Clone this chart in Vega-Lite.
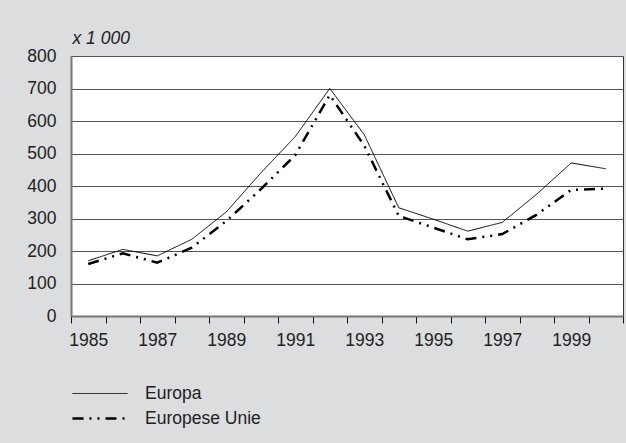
{
  "$schema": "https://vega.github.io/schema/vega-lite/v6.json",
  "autosize": {"type": "none"},
  "padding": {"left": 71, "top": 56, "right": 3, "bottom": 127},
  "width": 552,
  "height": 260,
  "background": "#dcdddf",
  "config": {
    "font": "Liberation Sans",
    "view": {"fill": "white", "stroke": "#333", "strokeWidth": 1}
  },
  "data": {
    "values": [
      {"year": 1985, "series": "Europa", "value": 170},
      {"year": 1986, "series": "Europa", "value": 205},
      {"year": 1987, "series": "Europa", "value": 185},
      {"year": 1988, "series": "Europa", "value": 236},
      {"year": 1989, "series": "Europa", "value": 320},
      {"year": 1990, "series": "Europa", "value": 440},
      {"year": 1991, "series": "Europa", "value": 552},
      {"year": 1992, "series": "Europa", "value": 700},
      {"year": 1993, "series": "Europa", "value": 558},
      {"year": 1994, "series": "Europa", "value": 333},
      {"year": 1995, "series": "Europa", "value": 298},
      {"year": 1996, "series": "Europa", "value": 261},
      {"year": 1997, "series": "Europa", "value": 288},
      {"year": 1998, "series": "Europa", "value": 375},
      {"year": 1999, "series": "Europa", "value": 471},
      {"year": 2000, "series": "Europa", "value": 453},
      {"year": 1985, "series": "Europese Unie", "value": 160},
      {"year": 1986, "series": "Europese Unie", "value": 193},
      {"year": 1987, "series": "Europese Unie", "value": 164},
      {"year": 1988, "series": "Europese Unie", "value": 210},
      {"year": 1989, "series": "Europese Unie", "value": 292},
      {"year": 1990, "series": "Europese Unie", "value": 390},
      {"year": 1991, "series": "Europese Unie", "value": 495},
      {"year": 1992, "series": "Europese Unie", "value": 680},
      {"year": 1993, "series": "Europese Unie", "value": 524},
      {"year": 1994, "series": "Europese Unie", "value": 308},
      {"year": 1995, "series": "Europese Unie", "value": 272},
      {"year": 1996, "series": "Europese Unie", "value": 236},
      {"year": 1997, "series": "Europese Unie", "value": 252},
      {"year": 1998, "series": "Europese Unie", "value": 312},
      {"year": 1999, "series": "Europese Unie", "value": 388},
      {"year": 2000, "series": "Europese Unie", "value": 392}
    ]
  },
  "mark": {"type": "line", "color": "black"},
  "encoding": {
    "x": {
      "field": "year",
      "type": "ordinal",
      "bandPosition": 0.5,
      "scale": {"type": "band", "paddingInner": 0, "paddingOuter": 0},
      "axis": {
        "title": null,
        "labelAngle": 0,
        "tickBand": "extent",
        "labelExpr": "datum.value % 2 == 1 ? datum.label : ''",
        "grid": false,
        "tickSize": 7,
        "tickColor": "#111",
        "tickWidth": 1,
        "domainColor": "#777",
        "domainWidth": 2,
        "labelFontSize": 17.5,
        "labelColor": "#222",
        "labelPadding": 8
      }
    },
    "y": {
      "field": "value",
      "type": "quantitative",
      "scale": {"domain": [0, 800], "nice": false},
      "axis": {
        "title": "x 1 000",
        "titleAngle": 0,
        "titleAlign": "left",
        "titleBaseline": "alphabetic",
        "titleX": 1,
        "titleY": -13,
        "titleFontStyle": "italic",
        "titleFontWeight": "normal",
        "titleFontSize": 17.5,
        "titleColor": "#222",
        "values": [0, 100, 200, 300, 400, 500, 600, 700, 800],
        "grid": true,
        "gridColor": "#555",
        "gridWidth": 1,
        "ticks": false,
        "domainColor": "#777",
        "domainWidth": 2,
        "labelFontSize": 17.5,
        "labelColor": "#222",
        "labelPadding": 15
      }
    },
    "strokeDash": {
      "field": "series",
      "type": "nominal",
      "scale": {"domain": ["Europa", "Europese Unie"], "range": [[1, 0], [11, 6, 2, 6, 2, 6]]},
      "legend": {
        "orient": "none",
        "legendX": 0,
        "legendY": 327,
        "title": null,
        "symbolType": "M-1,0H4.5",
        "symbolSize": 400,
        "symbolStrokeColor": "black",
        "labelFontSize": 17.5,
        "labelColor": "#222",
        "labelOffset": 51,
        "rowPadding": 5
      }
    },
    "strokeWidth": {
      "field": "series",
      "type": "nominal",
      "scale": {"domain": ["Europa", "Europese Unie"], "range": [1, 2.5]},
      "legend": null
    }
  }
}
